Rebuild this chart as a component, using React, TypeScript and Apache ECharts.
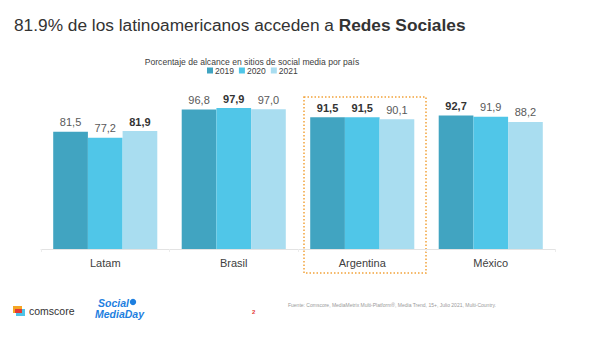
import React, { useEffect, useRef } from "react";
import * as echarts from "echarts";

const categories = ["Latam", "Brasil", "Argentina", "México"];
const seriesNames = ["2019", "2020", "2021"];
const values2019 = [81.5, 96.8, 91.5, 92.7];
const values2020 = [77.2, 97.9, 91.5, 91.9];
const values2021 = [81.9, 97.0, 90.1, 88.2];
// which labels are bold (per series, per category)
const bold2019 = [false, false, true, true];
const bold2020 = [false, true, true, false];
const bold2021 = [true, false, false, false];
const colors = ["#41a4c1", "#50c6e8", "#a9ddf0"];

const FONT = "Liberation Sans, Arial, sans-serif";

export default function App() {
  const ref = useRef<HTMLDivElement>(null);
  useEffect(() => {
    if (!ref.current) return;
    const chart = echarts.init(ref.current, null, { renderer: "svg" });
    const all = [values2019, values2020, values2021];
    const bolds = [bold2019, bold2020, bold2021];
    const series = all.map((vals, si) => ({
      name: seriesNames[si],
      type: "bar",
      barGap: "0%",
      barCategoryGap: "19%",
      itemStyle: { color: colors[si] },
      label: {
        show: true,
        position: "top",
        distance: 4,
        fontSize: 11,
        color: "#595959",
        fontFamily: FONT,
        formatter: (p: any) => String(p.value.toFixed(1)).replace(".", ","),
      },
      data: vals.map((v, i) => ({
        value: v,
        label: bolds[si][i] ? { fontWeight: "bold", color: "#333333" } : {},
      })),
    }));
    chart.setOption({
      animation: false,
      textStyle: { fontFamily: FONT },
      grid: { left: 41, right: 45, top: 105, bottom: 108 },
      legend: {
        data: seriesNames,
        top: 61,
        left: 202,
        itemWidth: 6,
        itemHeight: 6,
        itemGap: 5,
        icon: "rect",
        textStyle: { fontSize: 8.5, color: "#404040", padding: [0, 0, 0, -3] },
      },
      xAxis: {
        type: "category",
        data: categories,
        axisLine: { lineStyle: { color: "#e3e3e3" } },
        axisTick: { show: true, length: 3, lineStyle: { color: "#ececec" } },
        axisLabel: { fontSize: 11, color: "#404040", margin: 8 },
      },
      yAxis: { type: "value", min: 0, max: 100, show: false, splitLine: { show: false } },
      series,
      graphic: [
        {
          type: "text",
          left: 14,
          top: 16,
          style: {
            text: "{r|81.9% de los latinoamericanos acceden a }{b|Redes Sociales}",
            rich: {
              r: { fontSize: 17.3, fill: "#333333", fontFamily: FONT },
              b: { fontSize: 17.3, fontWeight: "bold", fill: "#333333", fontFamily: FONT },
            },
          },
        },
        {
          type: "text",
          x: 252,
          y: 57,
          style: {
            text: "Porcentaje de alcance en sitios de social media por país",
            fontSize: 8.6,
            fill: "#404040",
            align: "center",
            fontFamily: FONT,
          },
        },
        {
          type: "rect",
          shape: { x: 304, y: 97, width: 122, height: 176 },
          style: { fill: "none", stroke: "#f2a33a", lineWidth: 1.5, lineDash: [1.5, 2] },
        },
        // comscore logo
        { type: "rect", shape: { x: 13, y: 306, width: 9, height: 7 }, style: { fill: "#f5a623" } },
        { type: "rect", shape: { x: 16, y: 309, width: 9, height: 7 }, style: { fill: "#4fc3e8" } },
        { type: "rect", shape: { x: 15, y: 309, width: 7, height: 4 }, style: { fill: "#e53935" } },
        {
          type: "text",
          x: 29,
          y: 305,
          style: { text: "comscore", fontSize: 10.5, fill: "#333333", fontFamily: FONT },
        },
        // Social Media Day logo
        {
          type: "text",
          x: 98,
          y: 298,
          style: {
            text: "Social",
            fontSize: 10.5,
            lineHeight: 10,
            fontWeight: "bold",
            fontStyle: "italic",
            fill: "#1e7fe0",
            fontFamily: FONT,
          },
        },
        { type: "circle", shape: { cx: 133, cy: 302, r: 3.2 }, style: { fill: "#1e7fe0" } },
        {
          type: "text",
          x: 95,
          y: 308.5,
          style: {
            text: "MediaDay",
            fontSize: 10.5,
            lineHeight: 10,
            fontWeight: "bold",
            fontStyle: "italic",
            fill: "#1e7fe0",
            fontFamily: FONT,
          },
        },
        {
          type: "text",
          x: 252,
          y: 309,
          style: { text: "2", fontSize: 6, fontWeight: "bold", fill: "#e53935", fontFamily: FONT },
        },
        {
          type: "text",
          x: 288,
          y: 302,
          style: {
            text: "Fuente: Comscore, MediaMetrix Multi-Platform®, Media Trend, 15+, Julio 2021, Multi-Country.",
            fontSize: 5,
            fill: "#9a9a9a",
            fontFamily: FONT,
          },
        },
      ],
    });
    return () => chart.dispose();
  }, []);
  return <div ref={ref} style={{ width: 600, height: 357, position: "absolute", left: 0, top: 0, background: "#fff" }} />;
}
